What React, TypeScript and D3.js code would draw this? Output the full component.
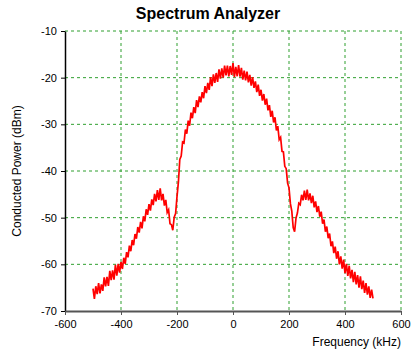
import { useRef, useEffect } from 'react';
import * as d3 from 'd3';

// spectrum samples, 5 kHz apart from -500 to 500 kHz
const freqs = d3.range(-500, 501, 5);
const power = [
  -65.2, -67.4, -64.7, -66.4, -64.0, -66.2, -64.3, -65.7, -62.8, -64.7,
  -62.7, -64.6, -61.4, -63.4, -61.3, -63.3, -60.1, -62.4, -59.9, -61.8,
  -59.5, -61.0, -58.6, -59.9, -57.4, -58.5, -56.0, -57.2, -54.8, -55.9,
  -53.5, -54.5, -52.0, -53.2, -50.9, -52.3, -49.7, -50.8, -48.2, -49.4,
  -47.1, -48.5, -46.1, -47.3, -44.9, -46.5, -44.1, -46.2, -43.7, -46.3,
  -44.9, -47.4, -46.2, -48.9, -48.3, -51.3, -51.5, -52.7, -49.9, -49.1,
  -45.5, -42.4, -37.5, -36.8, -33.8, -34.0, -31.1, -32.0, -29.2, -30.3,
  -27.5, -28.7, -26.3, -27.6, -24.8, -26.3, -24.0, -25.3, -23.1, -24.4,
  -21.8, -23.3, -21.1, -22.6, -19.9, -21.8, -19.3, -21.1, -19.0, -20.9,
  -18.2, -20.2, -18.0, -20.0, -17.4, -19.5, -17.4, -19.7, -17.5, -19.4,
  -16.9, -19.9, -17.7, -19.7, -17.3, -19.8, -17.9, -20.4, -18.5, -20.6,
  -18.7, -21.0, -19.4, -21.7, -19.9, -22.2, -20.8, -23.1, -21.5, -23.9,
  -22.6, -24.9, -23.5, -25.8, -24.5, -27.0, -25.9, -28.4, -27.1, -29.6,
  -28.5, -31.3, -30.4, -33.3, -32.8, -35.8, -35.9, -39.0, -39.5, -42.6,
  -43.6, -47.0, -48.6, -52.1, -53.0, -50.1, -49.0, -46.9, -47.2, -45.1,
  -46.3, -44.2, -46.2, -44.0, -46.3, -44.8, -46.9, -45.3, -47.8, -46.5,
  -48.8, -47.5, -49.8, -48.7, -51.3, -50.4, -53.0, -51.9, -54.4, -53.4,
  -56.1, -55.1, -57.6, -56.2, -58.8, -57.2, -60.0, -58.3, -60.9, -59.0,
  -61.9, -59.9, -62.5, -60.3, -63.0, -61.2, -63.8, -61.6, -64.3, -62.3,
  -65.0, -62.6, -65.3, -63.5, -66.1, -64.0, -66.5, -64.7, -67.2, -65.4,
  -67.3,
];

const xTicks = [-600, -400, -200, 0, 200, 400, 600];
const yTicks = [-70, -60, -50, -40, -30, -20, -10];

export default function App() {
  const ref = useRef<SVGSVGElement>(null);

  useEffect(() => {
    if (!ref.current) return;
    const svg = d3.select(ref.current);
    svg.selectAll('*').remove();

    const width = 411;
    const height = 353;
    const margin = { top: 31, right: 10, bottom: 42, left: 65 };
    const innerW = width - margin.left - margin.right;
    const innerH = height - margin.top - margin.bottom;

    const x = d3.scaleLinear().domain([-600, 600]).range([0, innerW]);
    const y = d3.scaleLinear().domain([-70, -10]).range([innerH, 0]);

    svg.append('rect').attr('width', width).attr('height', height).attr('fill', '#fff');

    svg.append('text')
      .attr('x', 208)
      .attr('y', 19)
      .attr('text-anchor', 'middle')
      .style('font-family', 'Arial, "Liberation Sans", sans-serif')
      .style('font-size', '16px')
      .style('font-weight', 'bold')
      .text('Spectrum Analyzer');

    const g = svg.append('g').attr('transform', `translate(${margin.left},${margin.top})`);

    const grid = '#2f9f2f';
    // grid
    g.selectAll('.vgrid')
      .data(xTicks.filter(d => d > -600))
      .join('line')
      .attr('x1', d => x(d)).attr('x2', d => x(d))
      .attr('y1', 0).attr('y2', innerH)
      .attr('stroke', grid).attr('stroke-dasharray', '3,3');
    g.selectAll('.hgrid')
      .data(yTicks.filter(d => d > -70))
      .join('line')
      .attr('x1', 0).attr('x2', innerW)
      .attr('y1', d => y(d)).attr('y2', d => y(d))
      .attr('stroke', grid).attr('stroke-dasharray', '3,3');

    const line = d3.line<number>()
      .x((_, i) => x(freqs[i]))
      .y(d => y(d));

    g.append('path')
      .datum(power)
      .attr('d', line)
      .attr('fill', 'none')
      .attr('stroke', '#ff0000')
      .attr('stroke-width', 1.7);

    const font = 'Arial, "Liberation Sans", sans-serif';
    const fmt = (d: d3.NumberValue) => String(d);

    // y axis
    const yAxis = g.append('g')
      .call(d3.axisLeft(y).tickValues(yTicks).tickFormat(fmt).tickSize(4).tickSizeOuter(0));
    yAxis.select('.domain').attr('stroke', '#000').attr('stroke-width', 1.5);
    yAxis.selectAll('.tick line').attr('stroke', '#000');
    yAxis.selectAll('.tick text')
      .attr('x', -8)
      .style('font-family', font)
      .style('font-size', '11px')
      .attr('fill', '#000');

    // x axis
    const xAxis = g.append('g')
      .attr('transform', `translate(0,${innerH})`)
      .call(d3.axisBottom(x).tickValues(xTicks).tickFormat(fmt).tickSize(4).tickSizeOuter(0));
    xAxis.select('.domain').attr('stroke', '#555').attr('stroke-width', 2);
    xAxis.selectAll('.tick line').attr('stroke', '#555');
    xAxis.selectAll('.tick text')
      .attr('y', 9)
      .style('font-family', font)
      .style('font-size', '11px')
      .attr('fill', '#000');

    svg.append('text')
      .attr('x', width - 10)
      .attr('y', 346)
      .attr('text-anchor', 'end')
      .style('font-family', font)
      .style('font-size', '12px')
      .text('Frequency (kHz)');

    svg.append('text')
      .attr('transform', `translate(21,${margin.top + innerH / 2}) rotate(-90)`)
      .attr('text-anchor', 'middle')
      .style('font-family', font)
      .style('font-size', '12px')
      .text('Conducted Power (dBm)');
  }, []);

  return (
    <svg
      ref={ref}
      width={411}
      height={353}
      style={{ position: 'absolute', left: 0, top: 0 }}
    />
  );
}
